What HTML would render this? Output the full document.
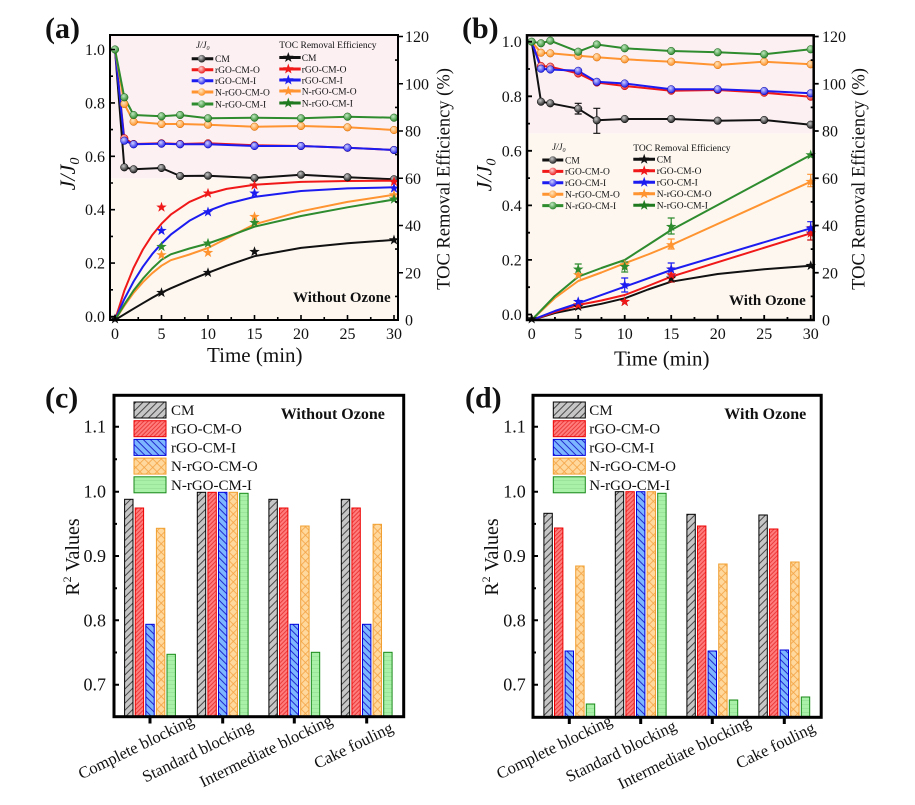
<!DOCTYPE html>
<html><head><meta charset="utf-8"><style>
html,body{margin:0;padding:0;background:#fff;}
svg{display:block;font-family:"Liberation Serif","Times New Roman",serif;}
</style></head><body>
<svg width="915" height="805" viewBox="0 0 915 805" xmlns="http://www.w3.org/2000/svg">
<defs>
<radialGradient id="gk" cx="0.4" cy="0.35" r="0.7"><stop offset="0" stop-color="#c8c8c8"/><stop offset="1" stop-color="#111"/></radialGradient>
<radialGradient id="gr" cx="0.4" cy="0.35" r="0.7"><stop offset="0" stop-color="#ffd0d0"/><stop offset="1" stop-color="#e81010"/></radialGradient>
<radialGradient id="gb" cx="0.4" cy="0.35" r="0.7"><stop offset="0" stop-color="#d0d0ff"/><stop offset="1" stop-color="#1515e8"/></radialGradient>
<radialGradient id="go" cx="0.4" cy="0.35" r="0.7"><stop offset="0" stop-color="#ffe6c0"/><stop offset="1" stop-color="#ff8a1a"/></radialGradient>
<radialGradient id="gg" cx="0.4" cy="0.35" r="0.7"><stop offset="0" stop-color="#c0e8c0"/><stop offset="1" stop-color="#1f7f1f"/></radialGradient>
<circle id="cc" r="3.8"/>
<path id="st" d="M0,-5.5 L1.29,-1.78 L5.23,-1.7 L2.09,0.68 L3.23,4.45 L0,2.2 L-3.23,4.45 L-2.09,0.68 L-5.23,-1.7 L-1.29,-1.78 Z"/>
<pattern id="pK" width="5" height="5" patternUnits="userSpaceOnUse" patternTransform="rotate(45)"><rect width="5" height="5" fill="#c6c6c6"/><line x1="0.5" y1="0" x2="0.5" y2="5" stroke="#3a3a3a" stroke-width="0.9"/></pattern>
<pattern id="pR" width="3" height="3" patternUnits="userSpaceOnUse" patternTransform="rotate(45)"><rect width="3" height="3" fill="#ff7d7d"/><line x1="0.5" y1="0" x2="0.5" y2="3" stroke="#e52a2a" stroke-width="0.8"/></pattern>
<pattern id="pB" width="5" height="5" patternUnits="userSpaceOnUse" patternTransform="rotate(-45)"><rect width="5" height="5" fill="#7cb6ff"/><line x1="0.5" y1="0" x2="0.5" y2="5" stroke="#1a1ac8" stroke-width="0.9"/></pattern>
<pattern id="pO" width="6" height="6" patternUnits="userSpaceOnUse" patternTransform="rotate(45)"><rect width="6" height="6" fill="#ffd89e"/><line x1="0.5" y1="0" x2="0.5" y2="6" stroke="#f4a444" stroke-width="0.8"/><line x1="0" y1="0.5" x2="6" y2="0.5" stroke="#f4a444" stroke-width="0.8"/></pattern>
<pattern id="pG" width="4" height="4" patternUnits="userSpaceOnUse"><rect width="4" height="4" fill="#a9f0a9"/><line x1="0" y1="0.5" x2="4" y2="0.5" stroke="#92dc92" stroke-width="0.6"/></pattern>
</defs>

<!-- ================= PANEL (a) ================= -->
<rect x="110" y="35" width="288" height="143.3" fill="#fcf0f3"/>
<rect x="110" y="178.3" width="288" height="141.7" fill="#fdf7f0"/>

<g fill="none" stroke-width="2" stroke-linejoin="round">
<path stroke="#111" d="M115,49.5 L124.3,167.3 L133.6,169.3 L161.5,168 L180.1,176 L208,175.7 L254.5,178 L301,174.7 L347.5,177.3 L394,179.3"/>
<path stroke="#f01818" d="M115,49.5 L124.3,138.3 L133.6,144 L161.5,143.3 L180.1,144 L208,143.3 L254.5,145.3 L301,146 L347.5,147.7 L394,150"/>
<path stroke="#1c1cf0" d="M115,49.5 L124.3,140.7 L133.6,144.3 L161.5,143.7 L180.1,144.3 L208,144.3 L254.5,146 L301,146 L347.5,147.7 L394,150"/>
<path stroke="#ff9430" d="M115,49.5 L124.3,104 L133.6,121.7 L161.5,124 L180.1,124 L208,124.7 L254.5,126.7 L301,126 L347.5,127.3 L394,130"/>
<path stroke="#2e8b2e" d="M115,49.5 L124.3,97.3 L133.6,115 L161.5,116.3 L180.1,115 L208,118.3 L254.5,117.7 L301,118.3 L347.5,116.7 L394,117.7"/>
<!-- TOC fits -->
<path stroke="#111" d="M115,320 L124.3,314.3 L133.6,308.7 L142.9,303.2 L152.2,297.8 L161.5,292.6 L170.8,288.3 L189.4,280.3 L208,272.8 L226.6,265.7 L254.5,256.2 L301,247.9 L347.5,243.2 L394,239.9"/>
<path stroke="#f01818" d="M115,320 L124.3,290.8 L133.6,267.8 L142.9,249.5 L152.2,235.1 L161.5,223.7 L170.8,214.6 L189.4,201.9 L208,193.9 L226.6,188.9 L254.5,184.7 L301,181.9 L347.5,181 L394,180.7"/>
<path stroke="#1c1cf0" d="M115,320 L124.3,299.1 L133.6,281.5 L142.9,266.7 L152.2,254.1 L161.5,243.6 L170.8,234.6 L189.4,220.8 L208,210.9 L226.6,203.9 L254.5,196.9 L301,191 L347.5,188.4 L394,187.3"/>
<path stroke="#ff9430" d="M115,320 L124.3,305.8 L133.6,292.8 L142.9,282.2 L152.2,273.2 L161.5,265.7 L170.8,260.2 L189.4,254.5 L208,248 L226.6,238.5 L254.5,224.3 L301,211.3 L347.5,201.9 L394,194.8"/>
<path stroke="#2e8b2e" d="M115,320 L124.3,304.6 L133.6,290.5 L142.9,278.7 L152.2,268.5 L161.5,259.8 L170.8,254.3 L189.4,248.5 L208,243.5 L226.6,237 L254.5,226.7 L301,216 L347.5,207.3 L394,199.5"/>
</g>

<!-- circles (a) -->
<g stroke-width="0.5">
<g fill="url(#gk)" stroke="#000">
<use href="#cc" x="124.3" y="167.3"/><use href="#cc" x="133.6" y="169.3"/><use href="#cc" x="161.5" y="168"/><use href="#cc" x="180.1" y="176"/><use href="#cc" x="208" y="175.7"/><use href="#cc" x="254.5" y="178"/><use href="#cc" x="301" y="174.7"/><use href="#cc" x="347.5" y="177.3"/><use href="#cc" x="394" y="179.3"/>
</g>
<g fill="url(#gr)" stroke="#b00">
<use href="#cc" x="124.3" y="138.3"/><use href="#cc" x="133.6" y="144"/><use href="#cc" x="161.5" y="143.3"/><use href="#cc" x="180.1" y="144"/><use href="#cc" x="208" y="143.3"/><use href="#cc" x="254.5" y="145.3"/><use href="#cc" x="301" y="146"/><use href="#cc" x="347.5" y="147.7"/><use href="#cc" x="394" y="150"/>
</g>
<g fill="url(#gb)" stroke="#00a">
<use href="#cc" x="124.3" y="140.7"/><use href="#cc" x="133.6" y="144.3"/><use href="#cc" x="161.5" y="143.7"/><use href="#cc" x="180.1" y="144.3"/><use href="#cc" x="208" y="144.3"/><use href="#cc" x="254.5" y="146"/><use href="#cc" x="301" y="146"/><use href="#cc" x="347.5" y="147.7"/><use href="#cc" x="394" y="150"/>
</g>
<g fill="url(#go)" stroke="#d06a00">
<use href="#cc" x="124.3" y="104"/><use href="#cc" x="133.6" y="121.7"/><use href="#cc" x="161.5" y="124"/><use href="#cc" x="180.1" y="124"/><use href="#cc" x="208" y="124.7"/><use href="#cc" x="254.5" y="126.7"/><use href="#cc" x="301" y="126"/><use href="#cc" x="347.5" y="127.3"/><use href="#cc" x="394" y="130"/>
</g>
<g fill="url(#gg)" stroke="#165f16">
<use href="#cc" x="115" y="49.5"/><use href="#cc" x="124.3" y="97.3"/><use href="#cc" x="133.6" y="115"/><use href="#cc" x="161.5" y="116.3"/><use href="#cc" x="180.1" y="115"/><use href="#cc" x="208" y="118.3"/><use href="#cc" x="254.5" y="117.7"/><use href="#cc" x="301" y="118.3"/><use href="#cc" x="347.5" y="116.7"/><use href="#cc" x="394" y="117.7"/>
</g>
</g>
<!-- stars (a) -->
<g>
<g fill="#111"><use href="#st" x="115" y="319"/><use href="#st" x="161.5" y="292.7"/><use href="#st" x="208" y="272.7"/><use href="#st" x="254.5" y="251.7"/><use href="#st" x="394" y="240"/></g>
<g fill="#f01818"><use href="#st" x="161.5" y="207.3"/><use href="#st" x="208" y="193.3"/><use href="#st" x="254.5" y="185.3"/><use href="#st" x="394" y="181.7"/></g>
<g fill="#1c1cf0"><use href="#st" x="161.5" y="230.7"/><use href="#st" x="208" y="212"/><use href="#st" x="254.5" y="193.3"/><use href="#st" x="394" y="188.3"/></g>
<g fill="#ff9430"><use href="#st" x="161.5" y="255"/><use href="#st" x="208" y="252.7"/><use href="#st" x="254.5" y="216.7"/><use href="#st" x="394" y="195"/></g>
<g fill="#2e8b2e"><use href="#st" x="161.5" y="246.7"/><use href="#st" x="208" y="243.3"/><use href="#st" x="254.5" y="222.7"/><use href="#st" x="394" y="199.3"/></g>
</g>

<!-- legend (a) -->
<g font-size="9.5" fill="#111">
<text x="196" y="48" font-style="italic" font-size="9">J/J<tspan font-size="6" dy="2">0</tspan></text>
<text x="279.3" y="48">TOC Removal Efficiency</text>
<g stroke-width="3">
<line x1="191.7" y1="58.7" x2="213.3" y2="58.7" stroke="#111"/>
<line x1="191.7" y1="69.7" x2="213.3" y2="69.7" stroke="#f01818"/>
<line x1="191.7" y1="80.7" x2="213.3" y2="80.7" stroke="#1c1cf0"/>
<line x1="191.7" y1="92" x2="213.3" y2="92" stroke="#ff9430"/>
<line x1="191.7" y1="104" x2="213.3" y2="104" stroke="#2e8b2e"/>
<line x1="279.3" y1="57.5" x2="300.7" y2="57.5" stroke="#111"/>
<line x1="279.3" y1="69" x2="300.7" y2="69" stroke="#f01818"/>
<line x1="279.3" y1="80" x2="300.7" y2="80" stroke="#1c1cf0"/>
<line x1="279.3" y1="91" x2="300.7" y2="91" stroke="#ff9430"/>
<line x1="279.3" y1="103" x2="300.7" y2="103" stroke="#1f7a1f"/>
</g>
<use href="#cc" x="201.7" y="58.7" fill="url(#gk)"/>
<use href="#cc" x="201.7" y="69.7" fill="url(#gr)"/>
<use href="#cc" x="201.7" y="80.7" fill="url(#gb)"/>
<use href="#cc" x="201.7" y="92" fill="url(#go)"/>
<use href="#cc" x="201.7" y="104" fill="url(#gg)"/>
<use href="#st" x="288.3" y="57.5" fill="#111"/>
<use href="#st" x="288.3" y="69" fill="#f01818"/>
<use href="#st" x="288.3" y="80" fill="#1c1cf0"/>
<use href="#st" x="288.3" y="91" fill="#ff9430"/>
<use href="#st" x="288.3" y="103" fill="#1f7a1f"/>
<text x="215" y="62">CM</text>
<text x="215" y="73">rGO-CM-O</text>
<text x="215" y="84">rGO-CM-I</text>
<text x="215" y="95.3">N-rGO-CM-O</text>
<text x="215" y="107.3">N-rGO-CM-I</text>
<text x="301.7" y="60.8">CM</text>
<text x="301.7" y="72.3">rGO-CM-O</text>
<text x="301.7" y="83.3">rGO-CM-I</text>
<text x="301.7" y="94.3">N-rGO-CM-O</text>
<text x="301.7" y="106.3">N-rGO-CM-I</text>
</g>
<text x="293" y="302" font-size="15" font-weight="bold" fill="#111">Without Ozone</text>

<!-- frame & ticks (a) -->
<rect x="110" y="35" width="288" height="285" fill="none" stroke="#000" stroke-width="2"/>
<path fill="none" stroke="#000" stroke-width="1.6" d="M110,316.5h5 M110,263.1h5 M110,209.7h5 M110,156.3h5 M110,102.9h5 M110,49.5h5 M110,289.8h3 M110,236.4h3 M110,183h3 M110,129.6h3 M110,76.2h3 M398,272.75h5 M398,225.5h5 M398,178.25h5 M398,131h5 M398,83.75h5 M398,36.5h5 M398,296.4h-3 M398,249.1h-3 M398,201.9h-3 M398,154.6h-3 M398,107.4h-3 M398,60.1h-3 M115,320v-5 M161.5,320v-5 M208,320v-5 M254.5,320v-5 M301,320v-5 M347.5,320v-5 M394,320v-5 M138.25,320v-3 M184.75,320v-3 M231.25,320v-3 M277.75,320v-3 M324.25,320v-3 M370.75,320v-3"/>
<g font-size="16" fill="#111">
<g text-anchor="end"><text x="105" y="322">0.0</text><text x="105" y="268.6">0.2</text><text x="105" y="215.2">0.4</text><text x="105" y="161.8">0.6</text><text x="105" y="108.4">0.8</text><text x="105" y="55">1.0</text></g>
<g><text x="405" y="325.5">0</text><text x="405" y="278.3">20</text><text x="405" y="231">40</text><text x="405" y="183.8">60</text><text x="405" y="136.5">80</text><text x="405" y="89.3">100</text><text x="405" y="42">120</text></g>
<g text-anchor="middle"><text x="115" y="339">0</text><text x="161.5" y="339">5</text><text x="208" y="339">10</text><text x="254.5" y="339">15</text><text x="301" y="339">20</text><text x="347.5" y="339">25</text><text x="394" y="339">30</text></g>
</g>
<text x="254.8" y="362" font-size="21" text-anchor="middle" fill="#111">Time (min)</text>
<text transform="translate(75,174) rotate(-90)" font-size="22" font-style="italic" text-anchor="middle" fill="#111">J/J<tspan font-size="14" dy="4">0</tspan></text>
<text transform="translate(449.5,179) rotate(-90)" font-size="18.5" text-anchor="middle" fill="#111">TOC Removal Efficiency (%)</text>
<text x="45" y="38" font-size="30" font-weight="bold" fill="#111">(a)</text>

<!-- ================= PANEL (b) ================= -->
<rect x="527" y="35" width="286.7" height="98.3" fill="#fcf0f3"/>
<rect x="527" y="133.3" width="286.7" height="186.7" fill="#fdf7f0"/>

<g fill="none" stroke-width="2" stroke-linejoin="round">
<path stroke="#111" d="M531.7,41.7 L541,101.7 L550.3,103.3 L578.2,108.7 L596.8,120.3 L624.7,119 L671.2,119 L717.7,120.7 L764.2,120 L810.7,124.7"/>
<path stroke="#f01818" d="M531.7,41.7 L541,66 L550.3,66.7 L578.2,73.5 L596.8,82.5 L624.7,86 L671.2,90.7 L717.7,90 L764.2,92.7 L810.7,96.7"/>
<path stroke="#1c1cf0" d="M531.7,41.7 L541,68.7 L550.3,69.5 L578.2,70.8 L596.8,81.8 L624.7,83.5 L671.2,89.3 L717.7,89.3 L764.2,91 L810.7,93.3"/>
<path stroke="#ff9430" d="M531.7,41.7 L541,52.7 L550.3,53.3 L578.2,55.8 L596.8,57.3 L624.7,59.3 L671.2,61.7 L717.7,65 L764.2,61.7 L810.7,64.3"/>
<path stroke="#2e8b2e" d="M531.7,41.7 L541,43.3 L550.3,40.7 L578.2,51.7 L596.8,44.5 L624.7,48.3 L671.2,51 L717.7,52.3 L764.2,54.3 L810.7,49.3"/>
<!-- TOC -->
<path stroke="#111" d="M531.7,320 L554.9,313 L578.2,308.3 L601.4,303.8 L624.7,298.3 L648,289.5 L671.2,281.7 L717.7,274 L764.2,269.3 L810.7,265.7"/>
<path stroke="#f01818" d="M531.7,320 L554.9,312 L578.2,305 L601.4,300.5 L624.7,295 L648,286 L671.2,276.7 L810.7,233.3"/>
<path stroke="#1c1cf0" d="M531.7,320 L554.9,311 L578.2,303.3 L624.7,286.7 L671.2,270 L810.7,228.3"/>
<path stroke="#ff9430" d="M531.7,320 L554.9,298 L578.2,281 L601.4,272.5 L624.7,263.3 L648,254.5 L671.2,245 L810.7,181.7"/>
<path stroke="#2e8b2e" d="M531.7,320 L554.9,296 L578.2,276.7 L601.4,268 L624.7,260 L648,245 L671.2,230 L810.7,155"/>
</g>
<!-- error bars (b) -->
<g fill="none" stroke-width="1.2">
<path stroke="#111" d="M578.2,103.3v10.7 M574.7,103.3h7 M574.7,114h7 M596.8,108.3v25 M593.3,108.3h7 M593.3,133.3h7"/>
<path stroke="#2e8b2e" d="M578.2,264v10 M574.7,264h7 M574.7,274h7 M624.7,262v10 M621.2,262h7 M621.2,272h7 M671.2,218v16 M667.7,218h7 M667.7,234h7"/>
<path stroke="#ff9430" d="M671.2,239v10 M667.7,239h7 M667.7,249h7 M810.7,174.3v12.4 M807.2,174.3h7 M807.2,186.7h7"/>
<path stroke="#1c1cf0" d="M810.7,221.7v11.6 M807.2,221.7h7 M807.2,233.3h7 M624.7,278v14 M621.2,278h7 M621.2,292h7 M671.2,263v12 M667.7,263h7 M667.7,275h7"/>
<path stroke="#c01010" d="M810.7,226.7v13.3 M807.2,226.7h7 M807.2,240h7 M671.2,268v14 M667.7,268h7 M667.7,282h7"/>
</g>
<!-- circles (b) -->
<g stroke-width="0.5">
<g fill="url(#gk)" stroke="#000">
<use href="#cc" x="541" y="101.7"/><use href="#cc" x="550.3" y="103.3"/><use href="#cc" x="578.2" y="108.7"/><use href="#cc" x="596.8" y="120.3"/><use href="#cc" x="624.7" y="119"/><use href="#cc" x="671.2" y="119"/><use href="#cc" x="717.7" y="120.7"/><use href="#cc" x="764.2" y="120"/><use href="#cc" x="810.7" y="124.7"/>
</g>
<g fill="url(#gr)" stroke="#b00">
<use href="#cc" x="541" y="66"/><use href="#cc" x="550.3" y="66.7"/><use href="#cc" x="578.2" y="73.5"/><use href="#cc" x="596.8" y="82.5"/><use href="#cc" x="624.7" y="86"/><use href="#cc" x="671.2" y="90.7"/><use href="#cc" x="717.7" y="90"/><use href="#cc" x="764.2" y="92.7"/><use href="#cc" x="810.7" y="96.7"/>
</g>
<g fill="url(#gb)" stroke="#00a">
<use href="#cc" x="541" y="68.7"/><use href="#cc" x="550.3" y="69.5"/><use href="#cc" x="578.2" y="70.8"/><use href="#cc" x="596.8" y="81.8"/><use href="#cc" x="624.7" y="83.5"/><use href="#cc" x="671.2" y="89.3"/><use href="#cc" x="717.7" y="89.3"/><use href="#cc" x="764.2" y="91"/><use href="#cc" x="810.7" y="93.3"/>
</g>
<g fill="url(#go)" stroke="#d06a00">
<use href="#cc" x="541" y="52.7"/><use href="#cc" x="550.3" y="53.3"/><use href="#cc" x="578.2" y="55.8"/><use href="#cc" x="596.8" y="57.3"/><use href="#cc" x="624.7" y="59.3"/><use href="#cc" x="671.2" y="61.7"/><use href="#cc" x="717.7" y="65"/><use href="#cc" x="764.2" y="61.7"/><use href="#cc" x="810.7" y="64.3"/>
</g>
<g fill="url(#gg)" stroke="#165f16">
<use href="#cc" x="531.7" y="41.7"/><use href="#cc" x="541" y="43.3"/><use href="#cc" x="550.3" y="40.7"/><use href="#cc" x="578.2" y="51.7"/><use href="#cc" x="596.8" y="44.5"/><use href="#cc" x="624.7" y="48.3"/><use href="#cc" x="671.2" y="51"/><use href="#cc" x="717.7" y="52.3"/><use href="#cc" x="764.2" y="54.3"/><use href="#cc" x="810.7" y="49.3"/>
</g>
</g>
<!-- stars (b) -->
<g>
<g fill="#111"><use href="#st" x="531.7" y="319"/><use href="#st" x="578.2" y="306.7"/><use href="#st" x="624.7" y="301.7"/><use href="#st" x="671.2" y="278.3"/><use href="#st" x="810.7" y="265.7"/></g>
<g fill="#f01818"><use href="#st" x="578.2" y="305"/><use href="#st" x="624.7" y="301.7"/><use href="#st" x="671.2" y="275"/><use href="#st" x="810.7" y="233.3"/></g>
<g fill="#1c1cf0"><use href="#st" x="578.2" y="301.7"/><use href="#st" x="624.7" y="285"/><use href="#st" x="671.2" y="269.3"/><use href="#st" x="810.7" y="228.3"/></g>
<g fill="#ff9430"><use href="#st" x="578.2" y="275"/><use href="#st" x="624.7" y="265"/><use href="#st" x="671.2" y="245"/><use href="#st" x="810.7" y="181.7"/></g>
<g fill="#2e8b2e"><use href="#st" x="578.2" y="269.3"/><use href="#st" x="624.7" y="266.7"/><use href="#st" x="671.2" y="226.7"/><use href="#st" x="810.7" y="155"/></g>
</g>

<!-- legend (b) -->
<g font-size="9.5" fill="#111">
<text x="552" y="150" font-style="italic" font-size="9">J/J<tspan font-size="6" dy="2">0</tspan></text>
<text x="633.3" y="151">TOC Removal Efficiency</text>
<g stroke-width="3">
<line x1="542.3" y1="160" x2="563.3" y2="160" stroke="#111"/>
<line x1="542.3" y1="171.4" x2="563.3" y2="171.4" stroke="#f01818"/>
<line x1="542.3" y1="182.8" x2="563.3" y2="182.8" stroke="#1c1cf0"/>
<line x1="542.3" y1="194.2" x2="563.3" y2="194.2" stroke="#ff9430"/>
<line x1="542.3" y1="205.6" x2="563.3" y2="205.6" stroke="#2e8b2e"/>
<line x1="633.3" y1="159.3" x2="655" y2="159.3" stroke="#111"/>
<line x1="633.3" y1="170.8" x2="655" y2="170.8" stroke="#f01818"/>
<line x1="633.3" y1="182.3" x2="655" y2="182.3" stroke="#1c1cf0"/>
<line x1="633.3" y1="193.8" x2="655" y2="193.8" stroke="#ff9430"/>
<line x1="633.3" y1="205.3" x2="655" y2="205.3" stroke="#1f7a1f"/>
</g>
<use href="#cc" x="552.8" y="160" fill="url(#gk)"/>
<use href="#cc" x="552.8" y="171.4" fill="url(#gr)"/>
<use href="#cc" x="552.8" y="182.8" fill="url(#gb)"/>
<use href="#cc" x="552.8" y="194.2" fill="url(#go)"/>
<use href="#cc" x="552.8" y="205.6" fill="url(#gg)"/>
<use href="#st" x="644.2" y="159.3" fill="#111"/>
<use href="#st" x="644.2" y="170.8" fill="#f01818"/>
<use href="#st" x="644.2" y="182.3" fill="#1c1cf0"/>
<use href="#st" x="644.2" y="193.8" fill="#ff9430"/>
<use href="#st" x="644.2" y="205.3" fill="#1f7a1f"/>
<text x="565" y="163.3">CM</text>
<text x="565" y="174.7">rGO-CM-O</text>
<text x="565" y="186.1">rGO-CM-I</text>
<text x="565" y="197.5">N-rGO-CM-O</text>
<text x="565" y="208.9">N-rGO-CM-I</text>
<text x="656.7" y="162.6">CM</text>
<text x="656.7" y="174.1">rGO-CM-O</text>
<text x="656.7" y="185.6">rGO-CM-I</text>
<text x="656.7" y="197.1">N-rGO-CM-O</text>
<text x="656.7" y="208.6">N-rGO-CM-I</text>
</g>
<text x="729" y="305" font-size="15" font-weight="bold" fill="#111">With Ozone</text>

<!-- frame & ticks (b) -->
<rect x="527" y="35.3" width="286.7" height="284.7" fill="none" stroke="#000" stroke-width="2.5"/>
<path fill="none" stroke="#000" stroke-width="1.8" d="M527,314.5h5 M527,259.9h5 M527,205.4h5 M527,150.8h5 M527,96.3h5 M527,41.7h5 M527,287.2h3 M527,232.7h3 M527,178.1h3 M527,123.6h3 M527,69h3 M813.7,272.75h5 M813.7,225.5h5 M813.7,178.25h5 M813.7,131h5 M813.7,83.75h5 M813.7,36.5h5 M813.7,296.4h-3 M813.7,249.1h-3 M813.7,201.9h-3 M813.7,154.6h-3 M813.7,107.4h-3 M813.7,60.1h-3 M531.7,320v-5 M578.2,320v-5 M624.7,320v-5 M671.2,320v-5 M717.7,320v-5 M764.2,320v-5 M810.7,320v-5 M554.95,320v-3 M601.45,320v-3 M647.95,320v-3 M694.45,320v-3 M740.95,320v-3 M787.45,320v-3"/>
<g font-size="16" fill="#111">
<g text-anchor="end"><text x="521.7" y="320">0.0</text><text x="521.7" y="265.4">0.2</text><text x="521.7" y="210.9">0.4</text><text x="521.7" y="156.3">0.6</text><text x="521.7" y="101.8">0.8</text><text x="521.7" y="47.2">1.0</text></g>
<g><text x="822" y="325.5">0</text><text x="822" y="278.3">20</text><text x="822" y="231">40</text><text x="822" y="183.8">60</text><text x="822" y="136.5">80</text><text x="822" y="89.3">100</text><text x="822" y="42">120</text></g>
<g text-anchor="middle"><text x="531.7" y="339">0</text><text x="578.2" y="339">5</text><text x="624.7" y="339">10</text><text x="671.2" y="339">15</text><text x="717.7" y="339">20</text><text x="764.2" y="339">25</text><text x="810.7" y="339">30</text></g>
</g>
<text x="661.7" y="365.5" font-size="21" text-anchor="middle" fill="#111">Time (min)</text>
<text transform="translate(491.5,175) rotate(-90)" font-size="22" font-style="italic" text-anchor="middle" fill="#111">J/J<tspan font-size="14" dy="4">0</tspan></text>
<text transform="translate(864.5,179) rotate(-90)" font-size="18.5" text-anchor="middle" fill="#111">TOC Removal Efficiency (%)</text>
<text x="462" y="38" font-size="30" font-weight="bold" fill="#111">(b)</text>

<!-- ================= PANEL (c) ================= -->
<g stroke-width="1">
<!-- Complete -->
<rect x="124.6" y="499.3" width="8.4" height="217.2" fill="url(#pK)" stroke="#000"/>
<rect x="135.2" y="508" width="8.4" height="208.5" fill="url(#pR)" stroke="#e00"/>
<rect x="145.8" y="624.3" width="8.4" height="92.2" fill="url(#pB)" stroke="#0000dd"/>
<rect x="156.4" y="528.3" width="8.4" height="188.2" fill="url(#pO)" stroke="#f0a030"/>
<rect x="167" y="654.3" width="8.4" height="62.2" fill="url(#pG)" stroke="#1a8a1a"/>
<!-- Standard -->
<rect x="197.3" y="492.3" width="8.4" height="224.2" fill="url(#pK)" stroke="#000"/>
<rect x="207.9" y="492.3" width="8.4" height="224.2" fill="url(#pR)" stroke="#e00"/>
<rect x="218.5" y="492.3" width="8.4" height="224.2" fill="url(#pB)" stroke="#0000dd"/>
<rect x="229.1" y="492.3" width="8.4" height="224.2" fill="url(#pO)" stroke="#f0a030"/>
<rect x="239.7" y="493.3" width="8.4" height="223.2" fill="url(#pG)" stroke="#1a8a1a"/>
<!-- Intermediate -->
<rect x="268.9" y="499.3" width="8.4" height="217.2" fill="url(#pK)" stroke="#000"/>
<rect x="279.5" y="508" width="8.4" height="208.5" fill="url(#pR)" stroke="#e00"/>
<rect x="290.1" y="624.3" width="8.4" height="92.2" fill="url(#pB)" stroke="#0000dd"/>
<rect x="300.7" y="526" width="8.4" height="190.5" fill="url(#pO)" stroke="#f0a030"/>
<rect x="311.3" y="652.3" width="8.4" height="64.2" fill="url(#pG)" stroke="#1a8a1a"/>
<!-- Cake -->
<rect x="341.3" y="499.3" width="8.4" height="217.2" fill="url(#pK)" stroke="#000"/>
<rect x="351.9" y="508" width="8.4" height="208.5" fill="url(#pR)" stroke="#e00"/>
<rect x="362.5" y="624.3" width="8.4" height="92.2" fill="url(#pB)" stroke="#0000dd"/>
<rect x="373.1" y="524.3" width="8.4" height="192.2" fill="url(#pO)" stroke="#f0a030"/>
<rect x="383.7" y="652.3" width="8.4" height="64.2" fill="url(#pG)" stroke="#1a8a1a"/>
<!-- legend -->
<rect x="134" y="402" width="32" height="16" fill="url(#pK)" stroke="#000"/>
<rect x="134" y="420.7" width="32" height="16" fill="url(#pR)" stroke="#e00"/>
<rect x="134" y="439.4" width="32" height="16" fill="url(#pB)" stroke="#0000dd"/>
<rect x="134" y="458.1" width="32" height="16" fill="url(#pO)" stroke="#f0a030"/>
<rect x="134" y="476.8" width="32" height="16" fill="url(#pG)" stroke="#1a8a1a"/>
</g>
<g font-size="15" fill="#111">
<text x="171" y="415">CM</text>
<text x="171" y="433.7">rGO-CM-O</text>
<text x="171" y="452.4">rGO-CM-I</text>
<text x="171" y="471.1">N-rGO-CM-O</text>
<text x="171" y="489.8">N-rGO-CM-I</text>
</g>
<text x="280.7" y="419" font-size="16" font-weight="bold" fill="#111">Without Ozone</text>
<rect x="114" y="395.3" width="289.7" height="321.4" fill="none" stroke="#000" stroke-width="3"/>
<path fill="none" stroke="#000" stroke-width="2" d="M114,426.7h5 M114,491.7h5 M114,556h5 M114,620.3h5 M114,684.7h5 M114,459.2h3 M114,523.9h3 M114,588.2h3 M114,652.5h3"/>
<path fill="none" stroke="#000" stroke-width="3" d="M150,718v5.5 M222.7,718v5.5 M294.3,718v5.5 M366.7,718v5.5"/>
<g font-size="18" fill="#111" text-anchor="end">
<text x="106" y="432.7">1.1</text><text x="106" y="497.7">1.0</text><text x="106" y="562">0.9</text><text x="106" y="626.3">0.8</text><text x="106" y="690.7">0.7</text>
</g>
<text transform="translate(79,557) rotate(-90)" font-size="20" text-anchor="middle" fill="#111">R<tspan font-size="12" dy="-8">2</tspan><tspan dy="8"> Values</tspan></text>
<g font-size="16.5" fill="#111" text-anchor="middle">
<text transform="translate(135.7,746.7) rotate(-26)" dy="0.35em">Complete blocking</text>
<text transform="translate(197.3,751) rotate(-26)" dy="0.35em">Standard blocking</text>
<text transform="translate(265.7,750.5) rotate(-26)" dy="0.35em">Intermediate blocking</text>
<text transform="translate(353.3,745) rotate(-26)" dy="0.35em">Cake fouling</text>
</g>
<text x="45" y="407.5" font-size="30" font-weight="bold" fill="#111">(c)</text>

<!-- ================= PANEL (d) ================= -->
<g stroke-width="1">
<rect x="543.9" y="513.3" width="8.4" height="203.7" fill="url(#pK)" stroke="#000"/>
<rect x="554.5" y="528" width="8.4" height="189" fill="url(#pR)" stroke="#e00"/>
<rect x="565.1" y="651" width="8.4" height="66" fill="url(#pB)" stroke="#0000dd"/>
<rect x="575.7" y="566" width="8.4" height="151" fill="url(#pO)" stroke="#f0a030"/>
<rect x="586.3" y="704" width="8.4" height="13" fill="url(#pG)" stroke="#1a8a1a"/>

<rect x="615.3" y="491.7" width="8.4" height="225.3" fill="url(#pK)" stroke="#000"/>
<rect x="625.9" y="491.7" width="8.4" height="225.3" fill="url(#pR)" stroke="#e00"/>
<rect x="636.5" y="491.7" width="8.4" height="225.3" fill="url(#pB)" stroke="#0000dd"/>
<rect x="647.1" y="491.7" width="8.4" height="225.3" fill="url(#pO)" stroke="#f0a030"/>
<rect x="657.7" y="493.3" width="8.4" height="223.7" fill="url(#pG)" stroke="#1a8a1a"/>

<rect x="686.9" y="514.3" width="8.4" height="202.7" fill="url(#pK)" stroke="#000"/>
<rect x="697.5" y="526" width="8.4" height="191" fill="url(#pR)" stroke="#e00"/>
<rect x="708.1" y="651" width="8.4" height="66" fill="url(#pB)" stroke="#0000dd"/>
<rect x="718.7" y="564" width="8.4" height="153" fill="url(#pO)" stroke="#f0a030"/>
<rect x="729.3" y="700" width="8.4" height="17" fill="url(#pG)" stroke="#1a8a1a"/>

<rect x="758.9" y="515" width="8.4" height="202" fill="url(#pK)" stroke="#000"/>
<rect x="769.5" y="529" width="8.4" height="188" fill="url(#pR)" stroke="#e00"/>
<rect x="780.1" y="650" width="8.4" height="67" fill="url(#pB)" stroke="#0000dd"/>
<rect x="790.7" y="562" width="8.4" height="155" fill="url(#pO)" stroke="#f0a030"/>
<rect x="801.3" y="697" width="8.4" height="20" fill="url(#pG)" stroke="#1a8a1a"/>

<rect x="553.3" y="402" width="32" height="16" fill="url(#pK)" stroke="#000"/>
<rect x="553.3" y="420.7" width="32" height="16" fill="url(#pR)" stroke="#e00"/>
<rect x="553.3" y="439.4" width="32" height="16" fill="url(#pB)" stroke="#0000dd"/>
<rect x="553.3" y="458.1" width="32" height="16" fill="url(#pO)" stroke="#f0a030"/>
<rect x="553.3" y="476.8" width="32" height="16" fill="url(#pG)" stroke="#1a8a1a"/>
</g>
<g font-size="15" fill="#111">
<text x="589.3" y="415">CM</text>
<text x="589.3" y="433.7">rGO-CM-O</text>
<text x="589.3" y="452.4">rGO-CM-I</text>
<text x="589.3" y="471.1">N-rGO-CM-O</text>
<text x="589.3" y="489.8">N-rGO-CM-I</text>
</g>
<text x="724.3" y="419" font-size="16" font-weight="bold" fill="#111">With Ozone</text>
<rect x="533" y="395.3" width="288.2" height="322" fill="none" stroke="#000" stroke-width="3"/>
<path fill="none" stroke="#000" stroke-width="2" d="M533,426.7h5 M533,491.7h5 M533,556h5 M533,620.3h5 M533,684.7h5 M533,459.2h3 M533,523.9h3 M533,588.2h3 M533,652.5h3"/>
<path fill="none" stroke="#000" stroke-width="3" d="M569.3,718.5v5.5 M640.7,718.5v5.5 M712.3,718.5v5.5 M784.3,718.5v5.5"/>
<g font-size="18" fill="#111" text-anchor="end">
<text x="525.7" y="432.7">1.1</text><text x="525.7" y="497.7">1.0</text><text x="525.7" y="562">0.9</text><text x="525.7" y="626.3">0.8</text><text x="525.7" y="690.7">0.7</text>
</g>
<text transform="translate(498,557) rotate(-90)" font-size="20" text-anchor="middle" fill="#111">R<tspan font-size="12" dy="-8">2</tspan><tspan dy="8"> Values</tspan></text>
<g font-size="16.5" fill="#111" text-anchor="middle">
<text transform="translate(554,746.7) rotate(-26)" dy="0.35em">Complete blocking</text>
<text transform="translate(620.8,750.8) rotate(-26)" dy="0.35em">Standard blocking</text>
<text transform="translate(684,752.5) rotate(-26)" dy="0.35em">Intermediate blocking</text>
<text transform="translate(775.3,745) rotate(-26)" dy="0.35em">Cake fouling</text>
</g>
<text x="465" y="407.5" font-size="30" font-weight="bold" fill="#111">(d)</text>
</svg>
</body></html>
